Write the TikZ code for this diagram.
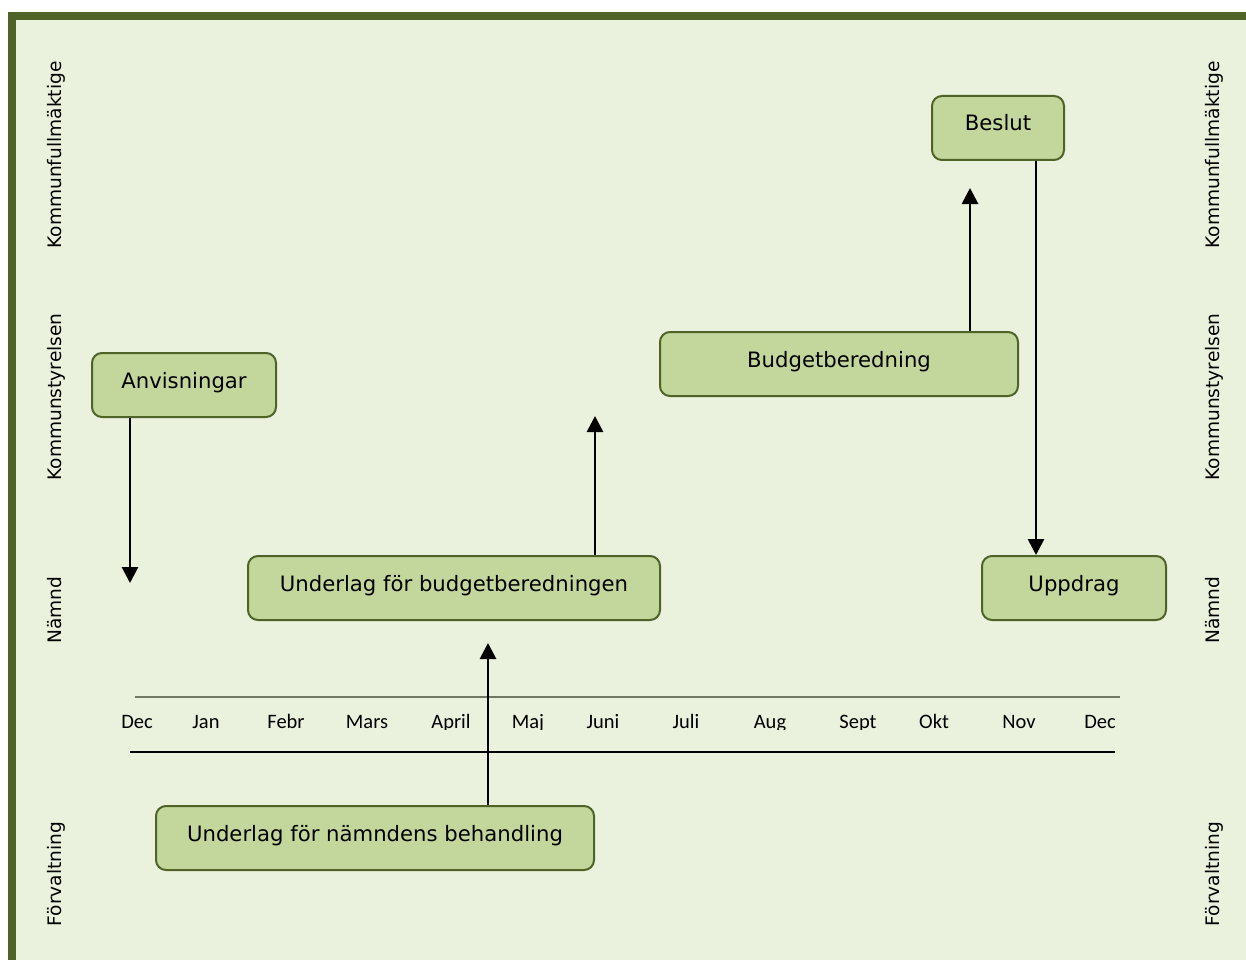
\documentclass[tikz,border=0pt]{standalone}
\usepackage{fontspec}
\setmainfont{DejaVu Sans}
\newfontfamily\monthfont{Carlito}
\usetikzlibrary{arrows.meta}

\definecolor{framegreen}{HTML}{4F6228}
\definecolor{panelbg}{HTML}{EAF1DD}
\definecolor{boxfill}{HTML}{C3D69B}
\definecolor{boxline}{HTML}{4F6228}
\definecolor{axisgray}{HTML}{6E7864}

\tikzset{
  phase/.style={draw=boxline, line width=2pt, fill=boxfill, rounded corners=10pt,
    inner sep=0pt, minimum height=64pt, text height=12pt, text depth=6pt,
    font=\fontsize{21.2}{25}\selectfont},
  lane/.style={rotate=90, anchor=base, inner sep=0pt,
    font=\fontsize{18.6}{22}\selectfont},
  month/.style={anchor=base, inner sep=0pt, font=\monthfont\fontsize{20.5}{24}\selectfont},
  flow/.style={line width=2.8pt, -{Triangle[width=16pt,length=16pt]}}
}

\begin{document}
\begin{tikzpicture}[x=1pt,y=-1pt]
\useasboundingbox (0,0) rectangle (1246,960);

% panel with its top and left frame bands
\fill[panelbg] (8,12) rectangle (1246,960);
\fill[framegreen] (8,12) rectangle (1246,20);
\fill[framegreen] (8,12) rectangle (16,960);

% lane names, left and right
\node[lane] (kfL) at (61,155) {Kommunfullmäktige};
\node[lane] (ksL) at (61,397) {Kommunstyrelsen};
\node[lane] (nmL) at (61,610) {Nämnd};
\node[lane] (fvL) at (61,874) {Förvaltning};
\node[lane] (kfR) at (1219,155) {Kommunfullmäktige};
\node[lane] (ksR) at (1219,397) {Kommunstyrelsen};
\node[lane] (nmR) at (1219,610) {Nämnd};
\node[lane] (fvR) at (1219,874) {Förvaltning};

% time axis
\coordinate (thinA) at (135,697);
\coordinate (thinB) at (1120,697);
\coordinate (thickA) at (130,752);
\coordinate (thickB) at (1115,752);
\draw[axisgray, line width=1.1pt] (thinA) -- (thinB);
\draw[black, line width=2.4pt] (thickA) -- (thickB);

\begin{scope}
  \clip (100,690) rectangle (1160,729.5);
  \node[month] (m0)  at (137,728) {Dec};
  \node[month] (m1)  at (206,728) {Jan};
  \node[month] (m2)  at (286,728) {Febr};
  \node[month] (m3)  at (367,728) {Mars};
  \node[month] (m4)  at (451,728) {April};
  \node[month] (m5)  at (528,728) {Maj};
  \node[month] (m6)  at (603,728) {Juni};
  \node[month] (m7)  at (686,728) {Juli};
  \node[month] (m8)  at (770,728) {Aug};
  \node[month] (m9)  at (858,728) {Sept};
  \node[month] (m10) at (934,728) {Okt};
  \node[month] (m11) at (1019,728) {Nov};
  \node[month] (m12) at (1100,728) {Dec};
\end{scope}

% process steps
\node[phase, minimum width=184pt] (anv) at (184,385) {Anvisningar};
\node[phase, minimum width=412pt] (ulb) at (454,588) {Underlag för budgetberedningen};
\node[phase, minimum width=358pt] (bud) at (839,364) {Budgetberedning};
\node[phase, minimum width=132pt] (bes) at (998,128) {Beslut};
\node[phase, minimum width=184pt] (upp) at (1074,588) {Uppdrag};
\node[phase, minimum width=438pt] (uln) at (375,838) {Underlag för nämndens behandling};

% arrow end points
\coordinate (anvEnd) at (130,583);
\coordinate (ulbEnd) at (595,416);
\coordinate (ulnEnd) at (488,643);
\coordinate (budEnd) at (970,188);

\draw[flow] (anv.south -| anvEnd) -- (anvEnd);
\draw[flow] (ulb.north -| ulbEnd) -- (ulbEnd);
\draw[flow] (uln.north -| ulnEnd) -- (ulnEnd);
\draw[flow] (bud.north -| budEnd) -- (budEnd);
\draw[flow] (bes.south -| 1036,0) -- (upp.north -| 1036,0);
\end{tikzpicture}
\end{document}
